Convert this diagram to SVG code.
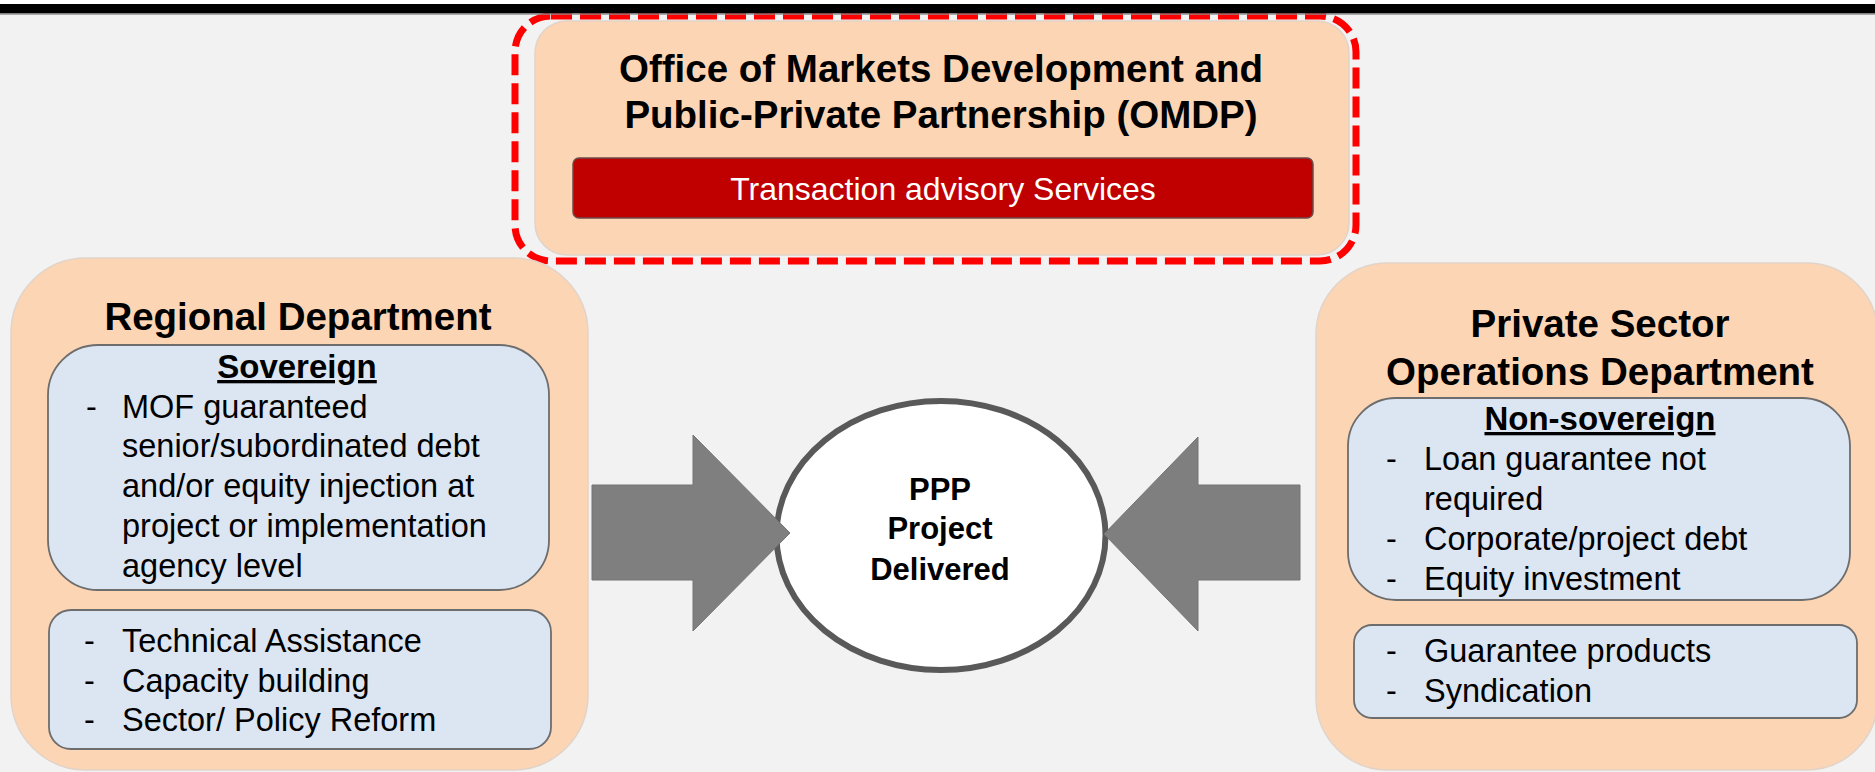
<svg xmlns="http://www.w3.org/2000/svg" width="1875" height="772" viewBox="0 0 1875 772">
<style>
text{font-family:"Liberation Sans",Arial,sans-serif;fill:#000}
.title{font-weight:bold;font-size:38.5px;text-anchor:middle}
.sub{font-weight:bold;font-size:33px;text-anchor:middle;text-decoration:underline}
.body{font-size:32.5px}
.peach{fill:#fcd5b5;stroke:#e2d3c8;stroke-width:1.5}
.blue{fill:#dce6f2;stroke:#6d6d6d;stroke-width:1.8}
.arrow{fill:#7f7f7f;stroke:#747474;stroke-width:1}
</style>
<rect x="0" y="0" width="1875" height="772" fill="#f2f2f2"/>

<g id="omdp">
<rect x="515" y="16" width="841" height="245" rx="36" fill="none" stroke="#ff0000" stroke-width="7" stroke-dasharray="21 8"/>
<rect class="peach" x="535" y="21" width="814" height="234" rx="32"/>
<text class="title" x="941" y="82">Office of Markets Development and</text>
<text class="title" x="941" y="128">Public-Private Partnership (OMDP)</text>
<rect x="573" y="158" width="740" height="60" rx="6" fill="#c00000" stroke="#6b4a4a" stroke-width="1.5"/>
<text x="943" y="200" style="font-size:32px;text-anchor:middle;fill:#ffffff">Transaction advisory Services</text>
</g>

<g id="regional">
<rect class="peach" x="11" y="258" width="577" height="512" rx="75"/>
<text class="title" x="298" y="330">Regional Department</text>
<rect class="blue" x="48" y="345" width="501" height="245" rx="50"/>
<text class="sub" x="297" y="378">Sovereign</text>
<text class="body" x="86" y="418">-</text>
<text class="body" x="122" y="418">MOF guaranteed</text>
<text class="body" x="122" y="457">senior/subordinated debt</text>
<text class="body" x="122" y="497">and/or equity injection at</text>
<text class="body" x="122" y="537">project or implementation</text>
<text class="body" x="122" y="577">agency level</text>
<rect class="blue" x="49" y="610" width="502" height="139" rx="22"/>
<text class="body" x="84" y="652">-</text>
<text class="body" x="122" y="652">Technical Assistance</text>
<text class="body" x="84" y="692">-</text>
<text class="body" x="122" y="692">Capacity building</text>
<text class="body" x="84" y="731">-</text>
<text class="body" x="122" y="731">Sector/ Policy Reform</text>
</g>

<g id="psod">
<rect class="peach" x="1316" y="263" width="562" height="507" rx="72"/>
<text class="title" x="1600" y="337">Private Sector</text>
<text class="title" x="1600" y="385">Operations Department</text>
<rect class="blue" x="1348" y="398" width="502" height="202" rx="48"/>
<text class="sub" x="1600" y="430">Non-sovereign</text>
<text class="body" x="1386" y="470">-</text>
<text class="body" x="1424" y="470">Loan guarantee not</text>
<text class="body" x="1424" y="510">required</text>
<text class="body" x="1386" y="550">-</text>
<text class="body" x="1424" y="550">Corporate/project debt</text>
<text class="body" x="1386" y="590">-</text>
<text class="body" x="1424" y="590">Equity investment</text>
<rect class="blue" x="1354" y="625" width="503" height="93" rx="18"/>
<text class="body" x="1386" y="662">-</text>
<text class="body" x="1424" y="662">Guarantee products</text>
<text class="body" x="1386" y="702">-</text>
<text class="body" x="1424" y="702">Syndication</text>
</g>

<g id="ppp">
<ellipse cx="941" cy="535.5" rx="164.5" ry="134.5" fill="#ffffff" stroke="#595959" stroke-width="6"/>
<text x="940" y="500" style="font-weight:bold;font-size:31px;text-anchor:middle">PPP</text>
<text x="940" y="539" style="font-weight:bold;font-size:31px;text-anchor:middle">Project</text>
<text x="940" y="580" style="font-weight:bold;font-size:31px;text-anchor:middle">Delivered</text>
</g>

<g id="connectors">
<polygon class="arrow" points="592,485 693,485 693,435 790,533 693,631 693,580 592,580"/>
<polygon class="arrow" points="1300,485 1198,485 1198,437 1104,534 1198,631 1198,580 1300,580"/>
</g>

<rect x="0" y="0" width="1875" height="4" fill="#ffffff"/>
<rect x="0" y="4" width="1875" height="9.5" fill="#000000"/>
<rect x="0" y="13.5" width="1875" height="1.2" fill="#8c8c8c"/>
</svg>
